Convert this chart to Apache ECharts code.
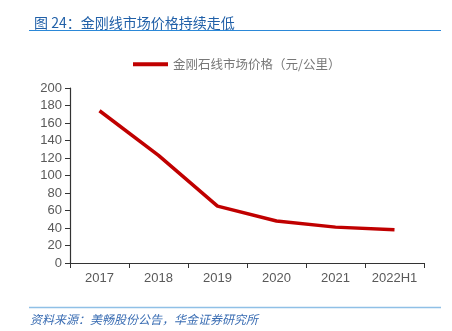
<!DOCTYPE html>
<html><head><meta charset="utf-8">
<script src="https://cdn.jsdelivr.net/npm/echarts@6/dist/echarts.min.js"></script>
<style>html,body{margin:0;padding:0;background:#fff}#c{width:452px;height:331px}</style>
</head><body><div id="c"></div>
<script>
var categories = ['2017','2018','2019','2020','2021','2022H1'];
var priceValues = [174, 123, 65, 48, 41, 38];
var seriesName = '金刚石线市场价格（元/公里）';
var titleText = '图 24：金刚线市场价格持续走低';
var sourceText = '资料来源：美畅股份公告，华金证券研究所';

var chart = echarts.init(document.getElementById('c'), null, {renderer:'canvas'});
chart.setOption({
  backgroundColor:'#fff',
  animation:false,
  title:{text:titleText, left:29, top:11, textStyle:{fontSize:14, fontWeight:'normal', color:'#2160a8', fontFamily:'Noto Sans CJK SC'}},
  graphic:[
    {type:'line', shape:{x1:29,y1:30.5,x2:441,y2:30.5}, style:{stroke:'#2b88d8', lineWidth:1.2}},
    {type:'line', shape:{x1:29,y1:307.5,x2:441,y2:307.5}, style:{stroke:'#8fc0e6', lineWidth:1.5}},
    {type:'text', left:30, top:313, style:{text:sourceText, font:'italic 12px "Noto Sans CJK SC"', fill:'#3a6db3'}}
  ],
  legend:{left:128, top:53, icon:'rect', itemWidth:35, itemHeight:4, itemGap:4,
    textStyle:{fontSize:12.5, color:'#777', fontFamily:'Noto Sans CJK SC'}, data:[seriesName]},
  grid:{left:70, right:28, top:88, bottom:68},
  xAxis:{type:'category', data:categories, boundaryGap:true,
    axisLine:{lineStyle:{color:'#333', width:1.2}},
    axisTick:{show:true, alignWithLabel:false, interval:0, length:5, lineStyle:{color:'#333'}},
    axisLabel:{interval:0, fontSize:13, color:'#595959', fontFamily:'Liberation Sans', margin:9}},
  yAxis:{type:'value', min:0, max:200, interval:20,
    axisLine:{show:true, lineStyle:{color:'#333', width:1.2}},
    axisTick:{show:true, length:5, lineStyle:{color:'#333'}},
    splitLine:{show:false},
    axisLabel:{fontSize:13, color:'#595959', fontFamily:'Liberation Sans', margin:8}},
  series:[{name:seriesName, type:'line', data:priceValues, symbol:'none',
    lineStyle:{color:'#c00000', width:3.5}, itemStyle:{color:'#c00000'}}]
});
</script></body></html>
